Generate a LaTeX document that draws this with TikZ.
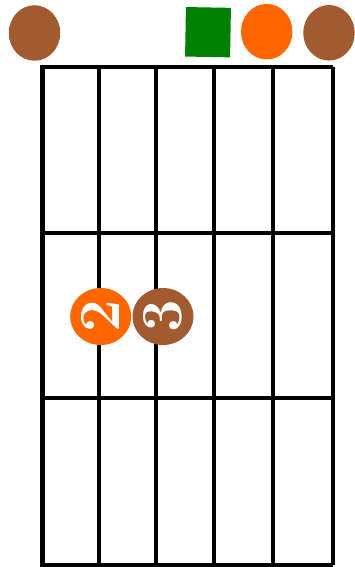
\documentclass[tikz,border=0pt]{standalone}
\usetikzlibrary{shapes.geometric}
\definecolor{brownc}{HTML}{A15B2F}
\definecolor{orangec}{HTML}{FF6600}
\definecolor{greenc}{HTML}{008000}
\begin{document}
\begin{tikzpicture}[x=1pt,y=-1pt,
  gridline/.style={line width=3.2pt,black},
  marker/.style={ellipse,inner sep=0pt,minimum width=51.5pt,minimum height=55.5pt},
  finger/.style={ellipse,inner sep=0pt,minimum width=61pt,minimum height=57pt,text=white,font=\bfseries\fontsize{58}{58}\selectfont}]
\useasboundingbox (0,0) rectangle (355,567);
% grid
\foreach \x in {99,156,214,273,333} \draw[gridline] (\x,67) -- (\x,565);
\foreach \y in {67,233,398,565} \draw[gridline] (42,\y) -- (333,\y);
\draw[line width=5pt] (42,65.4) -- (42,566.6);
% top markers
\node[marker,fill=brownc] (m1) at (34.5,33) {};
\node[fill=greenc,minimum width=45pt,minimum height=49.5pt,inner sep=0pt,rotate=-1] (m3) at (208,32.2) {};
\node[marker,fill=orangec] (m5) at (266.7,31.7) {};
\node[marker,fill=brownc] (m6) at (329,32.8) {};
% fingers
\node[finger,fill=orangec] (f2) at (100.7,316.5) {\rotatebox{90}{2}};
\node[finger,fill=brownc] (f3) at (163,316.5) {\rotatebox{90}{3}};
\end{tikzpicture}
\end{document}
